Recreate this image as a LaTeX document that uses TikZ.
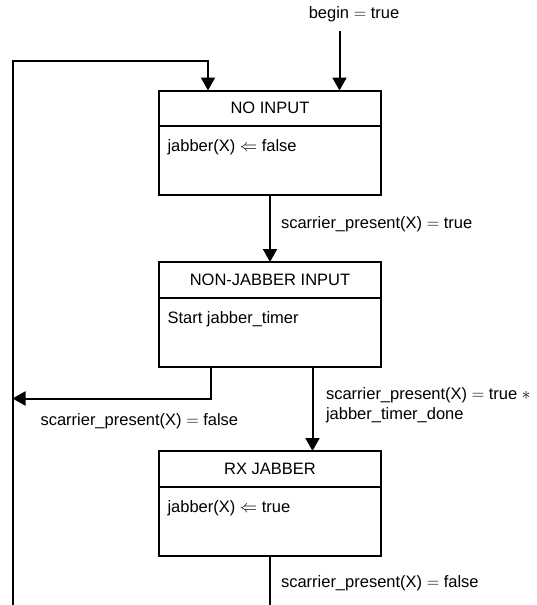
\documentclass[tikz,border=0pt]{standalone}
\usepackage{fontspec}
\setmainfont{Liberation Sans}
\usetikzlibrary{arrows.meta,calc}
\begin{document}
\begin{tikzpicture}[x=1pt,y=-1pt,
  every node/.style={font=\fontsize{16.5}{19.5}\selectfont, inner sep=0pt, outer sep=0pt},
  hdr/.style={draw, line width=2pt, minimum width=222pt, minimum height=35.5pt, anchor=north},
  bdy/.style={draw, line width=2pt, minimum width=222pt, minimum height=69pt, anchor=north},
  ln/.style={line width=2pt},
  arr/.style={line width=2pt, -{Triangle[width=14pt,length=13pt]}},
  lbl/.style={anchor=west, align=left}
]
\useasboundingbox (0,0) rectangle (537,605);

% states
\node[hdr] (h1) at (270,90.5) {NO INPUT};
\node[bdy] (b1) at (h1.south) {};
\node[lbl] (t1) at ($(b1.north west)+(8.5,21.5)$) {jabber(X) $\Leftarrow$ false};

\node[hdr] (h2) at (270,262) {NON-JABBER INPUT};
\node[bdy] (b2) at (h2.south) {};
\node[lbl] (t2) at ($(b2.north west)+(8.5,21.5)$) {Start jabber\_timer};

\node[hdr] (h3) at (270,451) {RX JABBER};
\node[bdy] (b3) at (h3.south) {};
\node[lbl] (t3) at ($(b3.north west)+(8.5,21.5)$) {jabber(X) $\Leftarrow$ true};

% begin
\node (begintxt) at (354,14.5) {begin $=$ true};
\coordinate (bgn) at (339.5,31);
\draw[arr] (bgn) -- (bgn |- h1.north);

% loop back
\coordinate (lb) at (12.5,605);
\coordinate (lt) at (12.5,60.5);
\coordinate (le) at (208,60.5);
\draw[arr] (lb) -- (lt) -- (le) -- (le |- h1.north);

% NO INPUT -> NON-JABBER INPUT
\draw[arr] (b1.south) -- (h2.north);
\node[lbl] (l1) at (281,224) {scarrier\_present(X) $=$ true};

% NON-JABBER INPUT -> loop
\coordinate (x1) at (210.5,398.5);
\draw[arr] (x1 |- b2.south) -- (x1) -- (lt |- x1);
\node[lbl] (l2) at (40.5,421) {scarrier\_present(X) $=$ false};

% NON-JABBER INPUT -> RX JABBER
\coordinate (x2) at (312.5,0);
\draw[arr] (x2 |- b2.south) -- (x2 |- h3.north);
\node[lbl] (l3) at (326,405) {scarrier\_present(X) $=$ true $\ast$\\jabber\_timer\_done};

% RX JABBER exit
\coordinate (bb) at (270,605);
\draw[ln] (b3.south) -- (bb);
\node[lbl] (l4) at (281,583.5) {scarrier\_present(X) $=$ false};
\end{tikzpicture}
\end{document}
